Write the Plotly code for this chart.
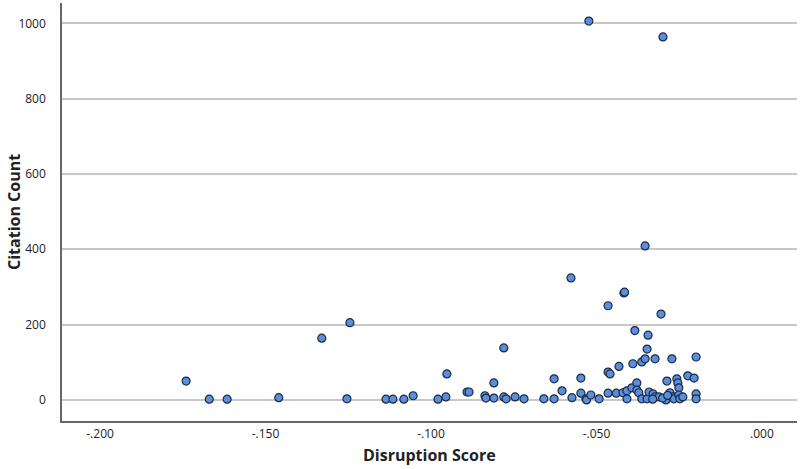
import plotly.graph_objects as go

disruption_score = [
    -0.0523, -0.0299, -0.0353, -0.0577, -0.0417, -0.0465, -0.0305, -0.0384, -0.0344, -0.0780,
    -0.1740, -0.1670, -0.1616, -0.1460, -0.1330, -0.1245, -0.1254, -0.1136, -0.1115, -0.1082,
    -0.1054, -0.0979, -0.0955, -0.0952, -0.0891, -0.0885, -0.0837, -0.0834, -0.0810, -0.0810,
    -0.0780, -0.0773, -0.0746, -0.0719, -0.0659, -0.0628, -0.0628, -0.0604, -0.0574, -0.0547,
    -0.0547, -0.0532, -0.0530, -0.0517, -0.0492, -0.0465, -0.0459, -0.0465, -0.0440, -0.0432,
    -0.0420, -0.0408, -0.0408, -0.0390, -0.0393, -0.0378, -0.0378, -0.0372, -0.0363, -0.0363,
    -0.0353, -0.0347, -0.0347, -0.0341, -0.0329, -0.0323, -0.0323, -0.0311, -0.0293, -0.0287,
    -0.0290, -0.0278, -0.0272, -0.0269, -0.0266, -0.0257, -0.0254, -0.0251, -0.0251, -0.0248,
    -0.0239, -0.0224, -0.0205, -0.0199, -0.0199, -0.0199, -0.0415, -0.0300, -0.0285, -0.0330,
]
citation_count = [
    1006, 964, 409, 324, 284, 250, 228, 184, 172, 138,
    50, 2, 2, 6, 164, 205, 3, 2, 2, 2,
    11, 2, 8, 69, 21, 21, 11, 5, 45, 5,
    8, 3, 8, 3, 3, 56, 3, 24, 6, 58,
    18, 3, 0, 13, 3, 74, 69, 18, 18, 89,
    19, 3, 24, 96, 32, 45, 26, 19, 3, 101,
    109, 135, 3, 21, 16, 109, 8, 8, 3, 50,
    0, 19, 109, 8, 3, 56, 45, 32, 13, 3,
    8, 64, 58, 114, 16, 3, 286, 5, 12, 2,
]

y_ticks = [0, 200, 400, 600, 800, 1000]
x_ticks = [-0.2, -0.15, -0.1, -0.05, 0.0]
x_tick_labels = ["-.200", "-.150", "-.100", "-.050", ".000"]
x_title = "Disruption Score"
y_title = "Citation Count"

fig = go.Figure(
    go.Scatter(
        x=disruption_score,
        y=citation_count,
        mode="markers",
        marker=dict(size=8, color="#5b8fdb", line=dict(color="#1c2a45", width=1.2)),
        hoverinfo="x+y",
    )
)

font_family = "Open Sans, DejaVu Sans, sans-serif"
fig.update_layout(
    width=800,
    height=469,
    margin=dict(l=62, r=3, t=3, b=48),
    paper_bgcolor="white",
    plot_bgcolor="white",
    showlegend=False,
    font=dict(family=font_family, size=12, color="#222222"),
    xaxis=dict(
        range=[-0.2115, 0.0106],
        tickvals=x_ticks,
        ticktext=x_tick_labels,
        showgrid=False,
        zeroline=False,
        showline=True,
        linecolor="#666666",
        linewidth=1.5,
        ticks="",
        ticklabelstandoff=1,
        automargin=False,
        tickfont=dict(size=12, color="#222222"),
    ),
    yaxis=dict(
        range=[-56, 1054],
        tickvals=y_ticks,
        showgrid=True,
        gridcolor="#c8c8c8",
        gridwidth=1.5,
        zeroline=False,
        showline=True,
        linecolor="#666666",
        linewidth=1.5,
        ticks="",
        ticklabelstandoff=12,
        automargin=False,
        tickfont=dict(size=12, color="#222222"),
    ),
    annotations=[
        dict(text="<b>" + x_title + "</b>", xref="paper", yref="paper", x=0.5, y=-0.0,
             yshift=-34, xanchor="center", yanchor="middle", showarrow=False,
             font=dict(size=16, color="#222222")),
        dict(text="<b>" + y_title + "</b>", xref="paper", yref="paper", x=0.0, y=0.5,
             xshift=-48, xanchor="center", yanchor="middle", textangle=-90, showarrow=False,
             font=dict(size=16, color="#222222")),
    ],
)

fig.write_html(
    "out.html",
    config={"displayModeBar": False},
    post_script="document.body.style.margin='0';document.body.style.padding='0';",
)
